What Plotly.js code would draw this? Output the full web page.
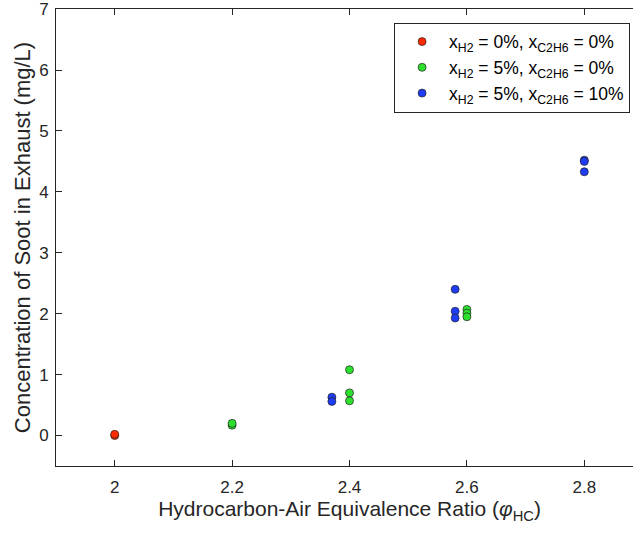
<!DOCTYPE html>
<html>
<head>
<meta charset="utf-8">
<script src="https://cdn.plot.ly/plotly-3.0.1.min.js"></script>
<style>
html, body { margin: 0; padding: 0; overflow: hidden; background: #fff; }
#chart { width: 645px; height: 533px; }
</style>
</head>
<body>
<div id="chart"></div>
<script>
// Series: x = equivalence ratio, y = soot concentration (mg/L)
const seriesNames = [
  "x<sub>H2</sub> = 0%, x<sub>C2H6</sub> = 0%",
  "x<sub>H2</sub> = 5%, x<sub>C2H6</sub> = 0%",
  "x<sub>H2</sub> = 5%, x<sub>C2H6</sub> = 10%"
];
const redX = [2.0, 2.0];
const redY = [0.0, 0.02];
const greenX = [2.2, 2.2, 2.4, 2.4, 2.4, 2.6, 2.6, 2.6];
const greenY = [0.17, 0.2, 1.08, 0.70, 0.57, 2.07, 2.01, 1.95];
const blueX = [2.37, 2.37, 2.58, 2.58, 2.58, 2.8, 2.8, 2.8];
const blueY = [0.63, 0.56, 2.40, 2.04, 1.93, 4.52, 4.50, 4.33];
const xTickVals = [2, 2.2, 2.4, 2.6, 2.8];
const xTickText = ["2", "2.2", "2.4", "2.6", "2.8"];
const yTickVals = [0, 1, 2, 3, 4, 5, 6, 7];
const yTickText = ["0", "1", "2", "3", "4", "5", "6", "7"];

const colors = ["#ff2a00", "#2ee02e", "#1f3cf5"];
function mk(x, y, name, color) {
  return {
    x: x, y: y, name: name, type: "scatter", mode: "markers",
    marker: { size: 8, color: color, line: { color: "#222", width: 0.7 } }
  };
}
const data = [
  mk(redX, redY, seriesNames[0], colors[0]),
  mk(greenX, greenY, seriesNames[1], colors[1]),
  mk(blueX, blueY, seriesNames[2], colors[2])
];
const FONT = "Liberation Sans, Arial, sans-serif";
const axisCommon = {
  showline: true, linecolor: "#262626", linewidth: 1, mirror: "ticks",
  ticks: "inside", ticklen: 6, tickcolor: "#262626", tickwidth: 1,
  showgrid: false, zeroline: false, ticklabeloverflow: "allow",
  tickfont: { family: FONT, size: 17, color: "#262626" }
};
const layout = {
  width: 645, height: 533,
  margin: { l: 56, r: 2, t: 9, b: 67 },
  paper_bgcolor: "#fff", plot_bgcolor: "#fff",
  showlegend: true,
  font: { family: FONT, color: "#262626" },
  xaxis: Object.assign({}, axisCommon, {
    range: [1.9, 2.9], tickvals: xTickVals, ticktext: xTickText,
    ticklabelstandoff: 6,
    title: { text: "Hydrocarbon-Air Equivalence Ratio (<i>φ</i><sub>HC</sub>)", font: { size: 21, color: "#262626" }, standoff: 3 }
  }),
  yaxis: Object.assign({}, axisCommon, {
    range: [-0.5, 7.002], tickvals: yTickVals, ticktext: yTickText,
    ticklabelstandoff: 3,
    title: { text: "Concentration of Soot in Exhaust (mg/L)", font: { size: 22, color: "#262626" }, standoff: 2 }
  }),
  legend: {
    x: 0.978, y: 0.97, xanchor: "right", yanchor: "top",
    bgcolor: "#fff", bordercolor: "#262626", borderwidth: 1,
    font: { family: FONT, size: 17.5, color: "#000" }, itemwidth: 44
  }
};
Plotly.newPlot("chart", data, layout, { displayModeBar: false, staticPlot: true });
</script>
</body>
</html>
